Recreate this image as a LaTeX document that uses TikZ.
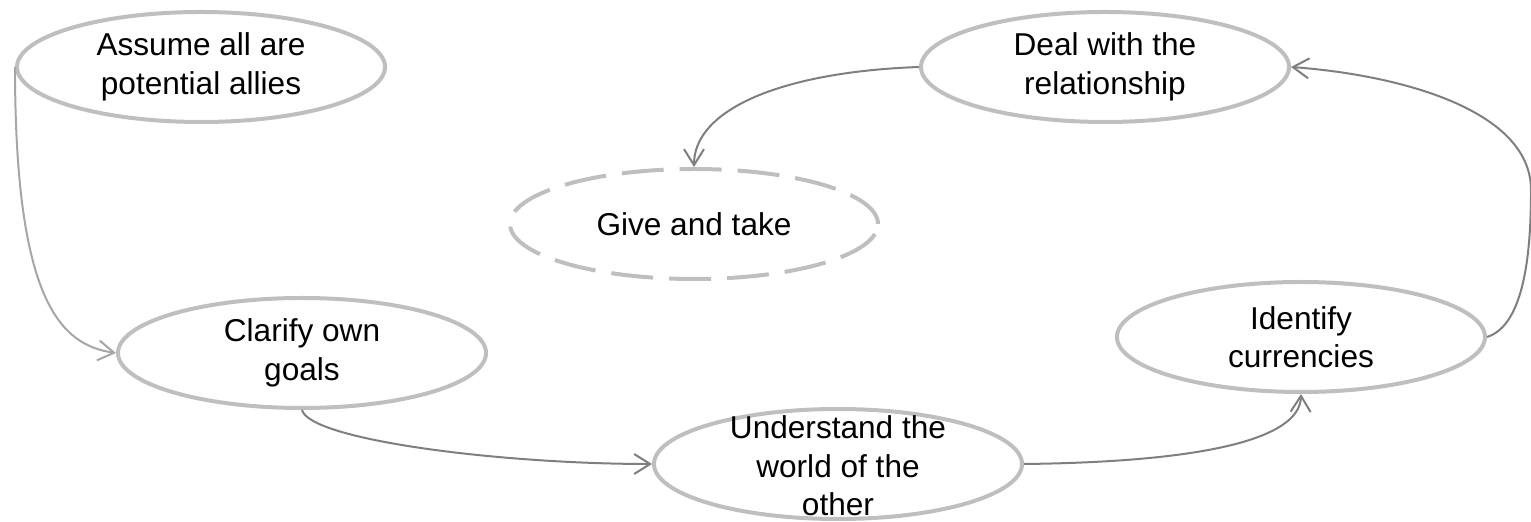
\documentclass[tikz,border=0pt]{standalone}
\usepackage{fontspec}
\setmainfont{Liberation Sans}
\usetikzlibrary{shapes.geometric,arrows.meta}
\definecolor{ovalgray}{HTML}{BFBFBF}
\definecolor{conngray}{HTML}{7F7F7F}
\definecolor{lightconn}{HTML}{A6A6A6}
\begin{document}
\begin{tikzpicture}[x=0.5pt,y=-0.5pt,
  oval/.style={ellipse,draw=ovalgray,line width=2pt,minimum width=184pt,minimum height=55pt,
    inner sep=0pt,align=center,font=\fontsize{15.8}{19.2}\selectfont},
  dashedoval/.style={oval,dash pattern=on 21pt off 8pt},
  conn/.style={draw=conngray,line width=1pt,-{Straight Barb[length=8pt,width=10pt]}},
  lightc/.style={conn,draw=lightconn}]
\useasboundingbox (0,0) rectangle (1531,522);
\node[oval] (assume) at (201,67) {Assume all are\\potential allies};
\node[oval] (deal) at (1105,67) {Deal with the\\relationship};
\node[dashedoval] (give) at (694,224) {Give and take};
\node[oval] (clarify) at (302,353) {Clarify own\\goals};
\node[oval] (under) at (838,464) {};
\node[align=center,font=\fontsize{15.8}{19.2}\selectfont] (undertext) at (838,466) {Understand the\\world of the\\other};
\node[oval] (ident) at (1301,337) {Identify\\currencies};
\draw[lightc] (assume.west) .. controls (15,300) and (60,345) .. (clarify.west);
\draw[conn] (clarify.south) .. controls (310,440) and (500,464) .. (under.west);
\draw[conn] (under.east) .. controls (1200,462) and (1300,440) .. (ident.south);
\draw[conn] (ident.east) .. controls (1525,325) and (1531,250) .. (1531,190) .. controls (1531,110) and (1400,75) .. (deal.east);
\draw[conn] (deal.west) .. controls (780,72) and (694,110) .. (give.north);
\end{tikzpicture}
\end{document}
